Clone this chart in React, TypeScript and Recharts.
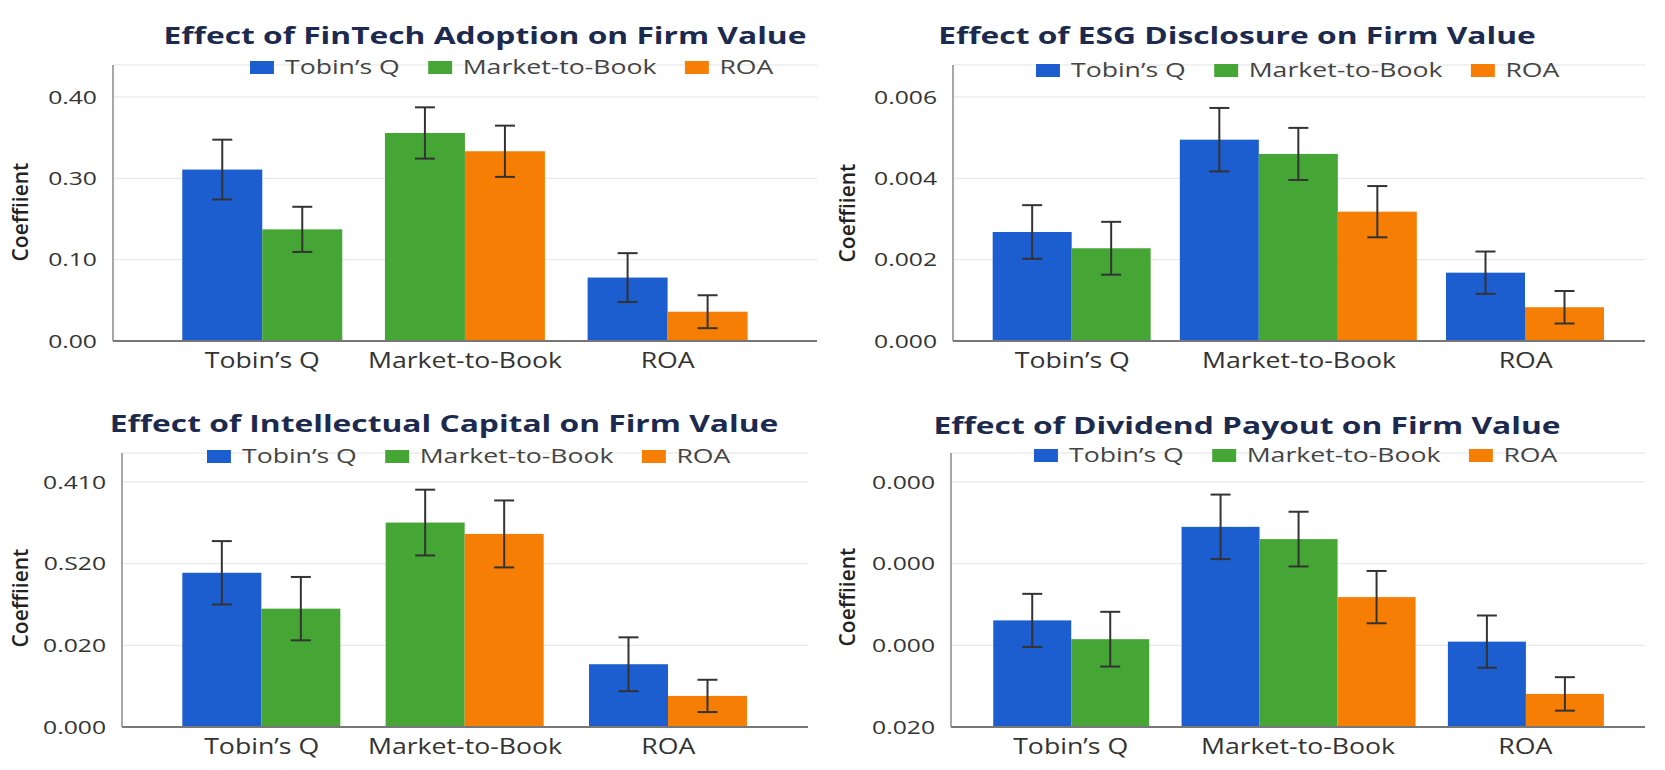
import React from 'react';
import { BarChart, Bar, XAxis, YAxis, CartesianGrid, Legend } from 'recharts';

// categories shared by all four panels
const categories = ['Tobin’s Q', 'Market-to-Book', 'ROA'];

// FinTech adoption
const fintechTobinsQ = [0.281, null, 0.104];
const fintechMarketToBook = [0.183, 0.341, null];
const fintechRoa = [null, 0.311, 0.048];
const fintechTobinsQErr = [0.049, null, 0.04];
const fintechMarketToBookErr = [0.037, 0.042, null];
const fintechRoaErr = [null, 0.042, 0.027];
const fintechTicks = ['0.00', '0.10', '0.30', '0.40'];

// ESG disclosure
const esgTobinsQ = [0.00268, 0.00495, 0.00168];
const esgMarketToBook = [0.00228, 0.0046, null];
const esgRoa = [null, 0.00318, 0.00083];
const esgTobinsQErr = [0.00066, 0.00078, 0.00052];
const esgMarketToBookErr = [0.00065, 0.00064, null];
const esgRoaErr = [null, 0.00063, 0.0004];
const esgTicks = ['0.000', '0.002', '0.004', '0.006'];

// Intellectual capital
const icTobinsQ = [0.258, null, 0.105];
const icMarketToBook = [0.198, 0.342, null];
const icRoa = [null, 0.323, 0.052];
const icTobinsQErr = [0.053, null, 0.045];
const icMarketToBookErr = [0.053, 0.055, null];
const icRoaErr = [null, 0.056, 0.027];
const icTicks = ['0.000', '0.020', '0.S20', '0.410'];

// Dividend payout
const divTobinsQ = [0.00261, 0.0049, 0.00209];
const divMarketToBook = [0.00215, 0.0046, null];
const divRoa = [null, 0.00318, 0.00081];
const divTobinsQErr = [0.00065, 0.00079, 0.00064];
const divMarketToBookErr = [0.00067, 0.00067, null];
const divRoaErr = [null, 0.00064, 0.00041];
const divTicks = ['0.020', '0.000', '0.000', '0.000'];

const SERIES = [
  { key: 'tobinsQ', name: 'Tobin’s Q', color: '#1c5dcf' },
  { key: 'marketToBook', name: 'Market-to-Book', color: '#45a636' },
  { key: 'roa', name: 'ROA', color: '#f77e04' },
];

const FONT = '"Open Sans", "Noto Sans", sans-serif';
// the lettering in the source is noticeably wide, so text is stretched sideways
const TITLE_STRETCH = 1.38;
const LEGEND_STRETCH = 1.33;
const XTICK_STRETCH = 1.27;
const YTICK_STRETCH = 1.3;

const buildRows = (tq: any[], mtb: any[], roa: any[], tqE: any[], mtbE: any[], roaE: any[]) =>
  categories.map((category, i) => ({
    category,
    tobinsQ: tq[i],
    marketToBook: mtb[i],
    roa: roa[i],
    tobinsQErr: tqE[i],
    marketToBookErr: mtbE[i],
    roaErr: roaE[i],
  }));

// Bars of a group are packed side by side and centred on the category,
// missing series leave no gap. The error bar is drawn with the bar.
const makeShape = (seriesIndex: number, barW: number) => (props: any) => {
  const { x, y, width, height, payload, fill } = props;
  const key = SERIES[seriesIndex].key;
  const value = payload?.[key];
  if (value == null || !height || !isFinite(height)) return <g />;
  const present = SERIES.map((s) => s.key).filter((k) => payload[k] != null);
  const pos = present.indexOf(key);
  const center = x + width * (1.5 - seriesIndex);
  const left = center + (pos - present.length / 2) * barW;
  const cx = left + barW / 2;
  const pxPerUnit = height / value;
  const err = payload[key + 'Err'] || 0;
  const hi = y - err * pxPerUnit;
  const lo = y + err * pxPerUnit;
  const cap = 10;
  return (
    <g>
      <rect x={left} y={y} width={barW} height={height} fill={fill} />
      <line x1={cx} x2={cx} y1={hi} y2={lo} stroke="#333" strokeWidth={2} />
      <line x1={cx - cap} x2={cx + cap} y1={hi} y2={hi} stroke="#333" strokeWidth={2} />
      <line x1={cx - cap} x2={cx + cap} y1={lo} y2={lo} stroke="#333" strokeWidth={2} />
    </g>
  );
};

const XTick = (props: any) => {
  const { x, y, payload } = props;
  return (
    <g transform={`translate(${x},${y}) scale(${XTICK_STRETCH},1)`}>
      <text x={0} y={0} dy="0.71em" textAnchor="middle" fontSize={21} fill="#333" fontFamily={FONT}>
        {payload.value}
      </text>
    </g>
  );
};

const makeYTick = (ticks: number[], labels: string[], yMax: number) => (props: any) => {
  const { x, y, payload, index } = props;
  const i = ticks.findIndex((t) => Math.abs(t - payload.value) < yMax * 1e-6);
  return (
    <g transform={`translate(${x},${y}) scale(${YTICK_STRETCH},1)`}>
      <text x={0} y={0} dy="0.355em" textAnchor="end" fontSize={19} fill="#333" fontFamily={FONT}>
        {labels[i >= 0 ? i : index] ?? ''}
      </text>
    </g>
  );
};

const renderLegend = (props: any) => {
  const order = SERIES.map((s) => s.name);
  const items = [...(props.payload || [])].sort(
    (a: any, b: any) => order.indexOf(a.value) - order.indexOf(b.value)
  );
  const s = LEGEND_STRETCH;
  return (
    <div
      style={{
        display: 'flex',
        alignItems: 'center',
        fontFamily: FONT,
        lineHeight: '26px',
        transform: `scaleX(${s})`,
        transformOrigin: 'left center',
      }}
    >
      {items.map((entry: any, i: number) => (
        <div key={i} style={{ display: 'flex', alignItems: 'center', marginRight: 28 / s }}>
          <span
            style={{ width: 24 / s, height: 13, background: entry.color, marginRight: 11 / s, display: 'inline-block' }}
          />
          <span style={{ fontSize: 20, color: '#444', whiteSpace: 'nowrap' }}>{entry.value}</span>
        </div>
      ))}
    </div>
  );
};

interface PanelProps {
  title: string;
  rows: any[];
  tickLabels: string[];
  yMax: number;
  domainFactor: number;
  left: number;
  top: number;
  width: number;
  height: number;
  plotTop: number;
  plotRight: number;
  axisWidth: number;
  xAxisHeight: number;
  padLeft: number;
  padRight: number;
  barW: number;
  titleX: number;
  titleY: number;
  legendX: number;
  legendY: number;
  labelX: number;
  labelY: number;
}

const Panel: React.FC<PanelProps> = (p) => {
  const ticks = [0, p.yMax / 3, (2 * p.yMax) / 3, p.yMax];
  return (
    <>
      <div
        style={{
          position: 'absolute',
          left: p.titleX,
          top: p.titleY,
          transform: `translate(-50%, -50%) scale(${TITLE_STRETCH}, 1)`,
          whiteSpace: 'nowrap',
          fontFamily: FONT,
          fontWeight: 700,
          fontSize: 23,
          color: '#1b2a4e',
        }}
      >
        {p.title}
      </div>
      <div
        style={{
          position: 'absolute',
          left: p.labelX,
          top: p.labelY,
          transform: 'translate(-50%, -50%) rotate(-90deg)',
          whiteSpace: 'nowrap',
          fontFamily: FONT,
          fontWeight: 600,
          fontSize: 21,
          color: '#222',
        }}
      >
        Coeffiient
      </div>
      <div style={{ position: 'absolute', left: p.left, top: p.top }}>
        <BarChart
          width={p.width}
          height={p.height}
          data={p.rows}
          barGap={0}
          margin={{ top: p.plotTop, right: p.width - p.plotRight, bottom: 0, left: 0 }}
        >
          <CartesianGrid vertical={false} stroke="#e3e3e3" />
          <XAxis
            dataKey="category"
            height={p.xAxisHeight}
            padding={{ left: p.padLeft, right: p.padRight }}
            interval={0}
            tickLine={false}
            tickSize={6}
            tickMargin={6}
            axisLine={{ stroke: '#777', strokeWidth: 2 }}
            tick={<XTick />}
          />
          <YAxis
            type="number"
            domain={[0, p.yMax * p.domainFactor]}
            ticks={ticks}
            width={p.axisWidth}
            tickLine={false}
            tickSize={6}
            tickMargin={10}
            axisLine={{ stroke: '#8a8a8a', strokeWidth: 1.5 }}
            tick={makeYTick(ticks, p.tickLabels, p.yMax)}
          />
          <Legend
            verticalAlign="middle"
            content={renderLegend}
            wrapperStyle={{ left: p.legendX - p.left, top: p.legendY - p.top - 13, width: 560, height: 26 }}
          />
          {SERIES.map((s, i) => (
            <Bar
              key={s.key}
              dataKey={s.key}
              name={s.name}
              fill={s.color}
              isAnimationActive={false}
              shape={makeShape(i, p.barW)}
            />
          ))}
        </BarChart>
      </div>
    </>
  );
};

export default function App() {
  return (
    <div
      style={{
        position: 'absolute',
        left: 0,
        top: 0,
        width: 1665,
        height: 770,
        background: '#fff',
        overflow: 'hidden',
      }}
    >
      <Panel
        title="Effect of FinTech Adoption on Firm Value"
        rows={buildRows(fintechTobinsQ, fintechMarketToBook, fintechRoa, fintechTobinsQErr, fintechMarketToBookErr, fintechRoaErr)}
        tickLabels={fintechTicks}
        yMax={0.4}
        domainFactor={1.131}
        left={0}
        top={0}
        width={832}
        height={385}
        plotTop={65}
        plotRight={817}
        axisWidth={113}
        xAxisHeight={44}
        padLeft={48}
        padRight={48}
        barW={80}
        titleX={485}
        titleY={35}
        legendX={250}
        legendY={67}
        labelX={20}
        labelY={212}
      />
      <Panel
        title="Effect of ESG Disclosure on Firm Value"
        rows={buildRows(esgTobinsQ, esgMarketToBook, esgRoa, esgTobinsQErr, esgMarketToBookErr, esgRoaErr)}
        tickLabels={esgTicks}
        yMax={0.006}
        domainFactor={1.131}
        left={832}
        top={0}
        width={833}
        height={385}
        plotTop={65}
        plotRight={813}
        axisWidth={121}
        xAxisHeight={44}
        padLeft={6}
        padRight={6}
        barW={79}
        titleX={1237}
        titleY={35}
        legendX={1036}
        legendY={70}
        labelX={847}
        labelY={213}
      />
      <Panel
        title="Effect of Intellectual Capital on Firm Value"
        rows={buildRows(icTobinsQ, icMarketToBook, icRoa, icTobinsQErr, icMarketToBookErr, icRoaErr)}
        tickLabels={icTicks}
        yMax={0.41}
        domainFactor={1.118}
        left={0}
        top={385}
        width={832}
        height={385}
        plotTop={68}
        plotRight={808}
        axisWidth={122}
        xAxisHeight={43}
        padLeft={38}
        padRight={38}
        barW={79}
        titleX={444}
        titleY={423}
        legendX={207}
        legendY={456}
        labelX={20}
        labelY={598}
      />
      <Panel
        title="Effect of Dividend Payout on Firm Value"
        rows={buildRows(divTobinsQ, divMarketToBook, divRoa, divTobinsQErr, divMarketToBookErr, divRoaErr)}
        tickLabels={divTicks}
        yMax={0.006}
        domainFactor={1.118}
        left={832}
        top={385}
        width={833}
        height={385}
        plotTop={68}
        plotRight={813}
        axisWidth={119}
        xAxisHeight={43}
        padLeft={6}
        padRight={6}
        barW={78}
        titleX={1247}
        titleY={425}
        legendX={1034}
        legendY={455}
        labelX={847}
        labelY={597}
      />
    </div>
  );
}
